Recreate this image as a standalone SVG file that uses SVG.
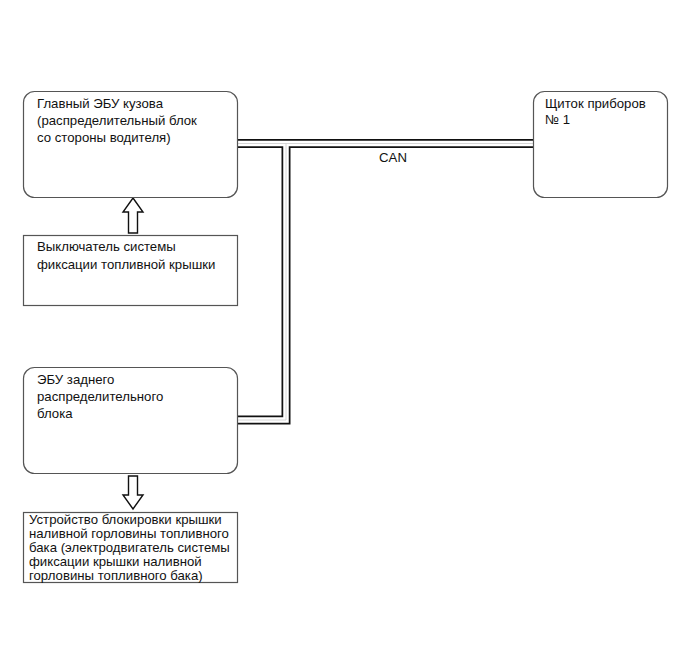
<svg xmlns="http://www.w3.org/2000/svg" width="691" height="660" viewBox="0 0 691 660">
<style>
  .box { fill: #fff; stroke: #555; stroke-width: 1.2; }
  .t { font-family: "Liberation Sans", Arial, sans-serif; font-size: 13.2px; fill: #111; }
  .tb { font-family: "Liberation Sans", Arial, sans-serif; font-size: 13.2px; fill: #111; }
  .cable-o { fill: none; stroke: #111; stroke-width: 9; }
  .cable-i { fill: none; stroke: #fff; stroke-width: 5.5; }
  .cable-c { fill: none; stroke: #ccc; stroke-width: 0.8; }
  .arrow { fill: #fff; stroke: #111; stroke-width: 1.4; stroke-linejoin: miter; }
</style>
<rect width="691" height="660" fill="#fff"/>
<g id="connectors">
  <path class="cable-o" d="M238,143.5 H533 M286,143.5 V420 H238"/>
  <path class="cable-i" d="M238,143.5 H533"/>
  <path class="cable-i" d="M286,146 V420 H238"/>
  <path class="cable-c" d="M238,143.5 H533 M286,143.5 V420 H238"/>
  <text class="t" x="393" y="162" text-anchor="middle">CAN</text>
  <polygon class="arrow" points="133,198 143,212 137.5,212 137.5,233 128.5,233 128.5,212 123,212"/>
  <polygon class="arrow" points="128.5,476 137.5,476 137.5,495 143,495 133,509 123,495 128.5,495"/>
</g>
<g id="main-ecu">
  <rect class="box" x="23.5" y="91.5" width="214" height="106" rx="11"/>
  <text class="t" x="37" y="108">Главный ЭБУ кузова</text>
  <text class="t" x="37" y="125">(распределительный блок</text>
  <text class="t" x="37" y="142">со стороны водителя)</text>
</g>
<g id="cluster">
  <rect class="box" x="533.5" y="91.5" width="134" height="106" rx="11"/>
  <text class="t" x="545" y="108">Щиток приборов</text>
  <text class="t" x="545" y="124">№ 1</text>
</g>
<g id="switch">
  <rect class="box" x="23.5" y="235.5" width="214" height="70"/>
  <text class="t" x="37" y="251">Выключатель системы</text>
  <text class="t" x="37" y="269">фиксации топливной крышки</text>
</g>
<g id="rear-ecu">
  <rect class="box" x="23.5" y="367.5" width="214" height="106" rx="11"/>
  <text class="t" x="37" y="384">ЭБУ заднего</text>
  <text class="t" x="37" y="401">распределительного</text>
  <text class="t" x="37" y="418">блока</text>
</g>
<g id="lock-device">
  <rect class="box" x="23.5" y="512.5" width="214" height="70"/>
  <text class="tb" x="29" y="524">Устройство блокировки крышки</text>
  <text class="tb" x="29" y="538">наливной горловины топливного</text>
  <text class="tb" x="29" y="552">бака (электродвигатель системы</text>
  <text class="tb" x="29" y="566">фиксации крышки наливной</text>
  <text class="tb" x="29" y="580">горловины топливного бака)</text>
</g>
</svg>
